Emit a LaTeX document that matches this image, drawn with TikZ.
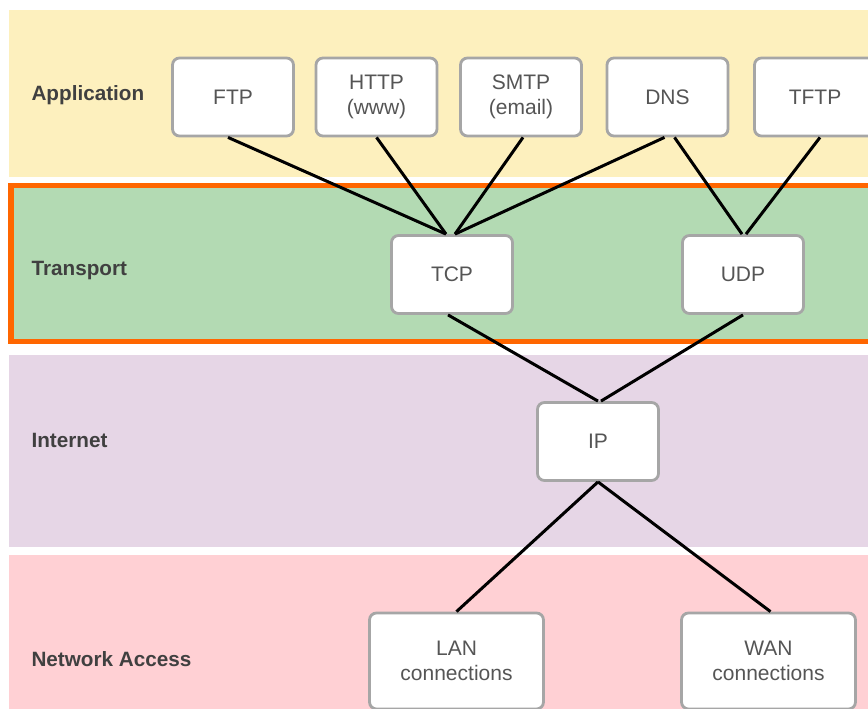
\documentclass[tikz,border=0pt]{standalone}
\usepackage{fontspec}
\setmainfont{Liberation Sans}
\definecolor{appfill}{HTML}{FDF0BE}
\definecolor{trfill}{HTML}{B3DAB3}
\definecolor{netfill}{HTML}{E6D6E6}
\definecolor{accfill}{HTML}{FFD0D4}
\definecolor{hilite}{HTML}{FF6600}
\definecolor{boxgray}{HTML}{A6A6A6}
\definecolor{txtgray}{HTML}{555555}
\definecolor{lblgray}{HTML}{404040}

\begin{document}
\begin{tikzpicture}[x=1pt,y=-1pt,
    proto/.style={draw=boxgray,line width=2.8pt,fill=white,rounded corners=7pt,
      minimum width=121pt,minimum height=78pt,align=center,text=txtgray,
      font=\fontsize{21}{25}\selectfont},
    layer/.style={anchor=west,text=lblgray,font=\bfseries\fontsize{20.7}{24}\selectfont},
    link/.style={line width=3pt}]
  \useasboundingbox (0,0) rectangle (868,709);
  \clip (0,0) rectangle (868,709);

  \fill[appfill] (9,10) rectangle (868,177);
  \fill[trfill]  (9,185) rectangle (868,342);
  \draw[hilite,line width=5.5pt] (11,185.5) rectangle (890,341.5);
  \fill[netfill] (9,355) rectangle (868,547);
  \fill[accfill] (9,555) rectangle (868,709);

  \foreach \y/\name in {95/Application, 271/Transport, 440/Internet, 659/Network Access}
    \node[layer] at (28,\y) {\name};

  \node[proto] (ftp)  at (233,97)   {FTP};
  \node[proto] (http) at (376.5,97) {HTTP\\(www)};
  \node[proto] (smtp) at (521,97)   {SMTP\\(email)};
  \node[proto] (dns)  at (667.5,97) {DNS};
  \node[proto] (tftp) at (815,97)   {TFTP};

  \node[proto] (tcp) at (452,274.5) {TCP};
  \node[proto] (udp) at (743,274.5) {UDP};
  \node[proto] (ip)  at (598,441.5) {IP};

  \node[proto,minimum width=174pt,minimum height=96pt] (lan) at (456.5,661) {LAN\\connections};
  \node[proto,minimum width=174pt,minimum height=96pt] (wan) at (768.5,661) {WAN\\connections};

  \draw[link] ([xshift=-5pt]ftp.south) -- ([xshift=-6pt]tcp.north);
  \draw[link] (http.south) -- ([xshift=-6pt]tcp.north);
  \draw[link] ([xshift=2pt]smtp.south) -- ([xshift=3pt]tcp.north);
  \draw[link] ([xshift=-3pt]dns.south) -- ([xshift=3pt]tcp.north);
  \draw[link] ([xshift=7pt]dns.south) -- ([xshift=-1pt]udp.north);
  \draw[link] ([xshift=5pt]tftp.south) -- ([xshift=3pt]udp.north);

  \draw[link] ([xshift=-4pt]tcp.south) -- (ip.north);
  \draw[link] (udp.south) -- ([xshift=3pt]ip.north);
  \draw[link] (ip.south) -- (lan.north);
  \draw[link] (ip.south) -- ([xshift=2pt]wan.north);
\end{tikzpicture}
\end{document}
